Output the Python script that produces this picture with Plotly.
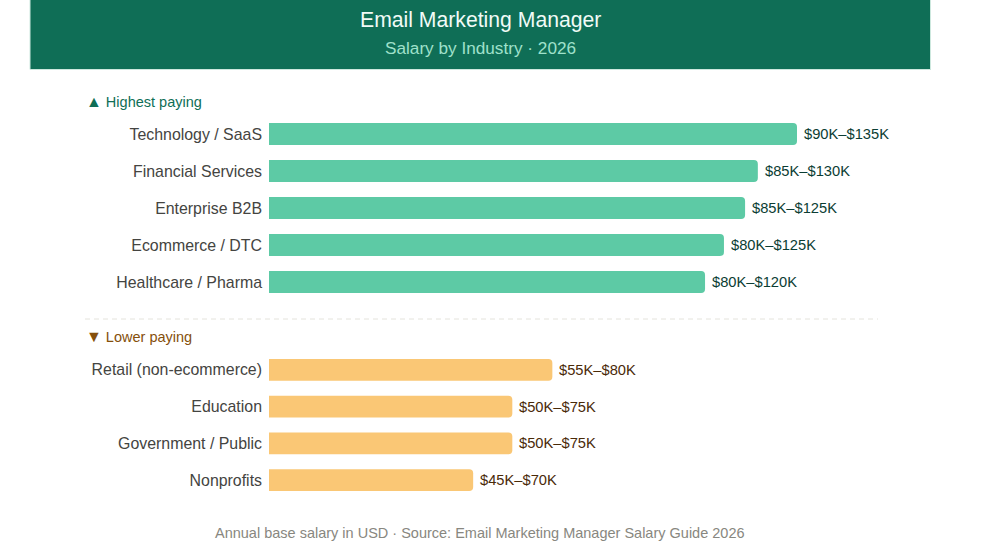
import plotly.graph_objects as go

# ---- data ----
high_industries = ["Technology / SaaS", "Financial Services", "Enterprise B2B", "Ecommerce / DTC", "Healthcare / Pharma"]
high_median_k = [120, 111.1, 108.2, 103.4, 99.1]
high_ranges = ["$90K–$135K", "$85K–$130K", "$85K–$125K", "$80K–$125K", "$80K–$120K"]

low_industries = ["Retail (non-ecommerce)", "Education", "Government / Public", "Nonprofits"]
low_median_k = [64.4, 55.3, 55.3, 46.4]
low_ranges = ["$55K–$80K", "$50K–$75K", "$50K–$75K", "$45K–$70K"]

title = "Email Marketing Manager"
subtitle = "Salary by Industry · 2026"
footer = "Annual base salary in USD · Source: Email Marketing Manager Salary Guide 2026"
high_label = "<span style='font-size:16px'>▲</span> Highest paying"
low_label = "<span style='font-size:16px'>▼</span> Lower paying"

# ---- style ----
W, H = 992, 558
FONT = "Liberation Sans, Arial, sans-serif"
GREEN = "#5DCAA5"
ORANGE = "#FAC775"
HEADER_BG = "#0F6E56"

def py(px):
    return 1 - px / H

def pxx(px):
    return px / W

X_START, PX_PER_K, X_MAX = 269, 4.4, 140
x_dom = [pxx(X_START), pxx(X_START + PX_PER_K * X_MAX)]

fig = go.Figure()
fig.add_trace(go.Bar(
    x=high_median_k, y=high_industries, orientation="h",
    marker=dict(color=GREEN, cornerradius=4, line=dict(width=0)),
    xaxis="x", yaxis="y", hoverinfo="skip",
))
fig.add_trace(go.Bar(
    x=low_median_k, y=low_industries, orientation="h",
    marker=dict(color=ORANGE, cornerradius=4, line=dict(width=0)),
    xaxis="x2", yaxis="y2", hoverinfo="skip",
))

annotations = []
for v, cat, t in zip(high_median_k, high_industries, high_ranges):
    annotations.append(dict(x=v, y=cat, xref="x", yref="y", text=t, showarrow=False,
                            xanchor="left", xshift=5, font=dict(family=FONT, size=14.7, color="#0B3D33")))
for v, cat, t in zip(low_median_k, low_industries, low_ranges):
    annotations.append(dict(x=v, y=cat, xref="x2", yref="y2", text=t, showarrow=False,
                            xanchor="left", xshift=5, font=dict(family=FONT, size=14.7, color="#4A2A08")))

annotations += [
    dict(x=pxx(480), y=py(20), xref="paper", yref="paper", text=title, showarrow=False,
         xanchor="center", yanchor="middle", font=dict(family=FONT, size=21.2, color="#F1FBF7")),
    dict(x=pxx(480), y=py(48), xref="paper", yref="paper", text=subtitle, showarrow=False,
         xanchor="center", yanchor="middle", font=dict(family=FONT, size=17.2, color="#9FE1CB")),
    dict(x=pxx(84), y=py(101), xref="paper", yref="paper", text=high_label, showarrow=False,
         xanchor="left", yanchor="middle", font=dict(family=FONT, size=14.5, color="#0F6E56")),
    dict(x=pxx(84), y=py(336), xref="paper", yref="paper", text=low_label, showarrow=False,
         xanchor="left", yanchor="middle", font=dict(family=FONT, size=14.5, color="#854F0B")),
    dict(x=pxx(480), y=py(533), xref="paper", yref="paper", text=footer, showarrow=False,
         xanchor="center", yanchor="middle", font=dict(family=FONT, size=14.5, color="#888780")),
]

shapes = [
    dict(type="rect", xref="paper", yref="paper", x0=pxx(30), x1=pxx(930.5), y0=py(69.5), y1=py(-1),
         fillcolor=HEADER_BG, line=dict(width=1, color="#CDE8DE"), layer="below"),
    dict(type="line", xref="paper", yref="paper", x0=pxx(85), x1=pxx(878), y0=py(319), y1=py(319),
         line=dict(color="#E4E3DC", width=1, dash="5px,4px")),
]

axis_common = dict(showgrid=False, zeroline=False, showline=False, fixedrange=True)
fig.update_layout(
    width=W, height=H,
    margin=dict(l=0, r=0, t=0, b=0),
    paper_bgcolor="white", plot_bgcolor="white",
    showlegend=False, bargap=0.405,
    font=dict(family=FONT),
    xaxis=dict(domain=x_dom, range=[0, X_MAX], showticklabels=False, anchor="y", **axis_common),
    xaxis2=dict(domain=x_dom, range=[0, X_MAX], showticklabels=False, anchor="y2", **axis_common),
    yaxis=dict(domain=[py(300.5), py(115.5)], autorange="reversed", anchor="x",
               tickfont=dict(family=FONT, size=15.9, color="#444441"),
               ticks="", ticklabelstandoff=6, automargin=False, **axis_common),
    yaxis2=dict(domain=[py(498.5), py(351.5)], autorange="reversed", anchor="x2",
                tickfont=dict(family=FONT, size=15.9, color="#444441"),
                ticks="", ticklabelstandoff=6, automargin=False, **axis_common),
    annotations=annotations, shapes=shapes,
)

fig.write_html("out.html", config={"displayModeBar": False})
